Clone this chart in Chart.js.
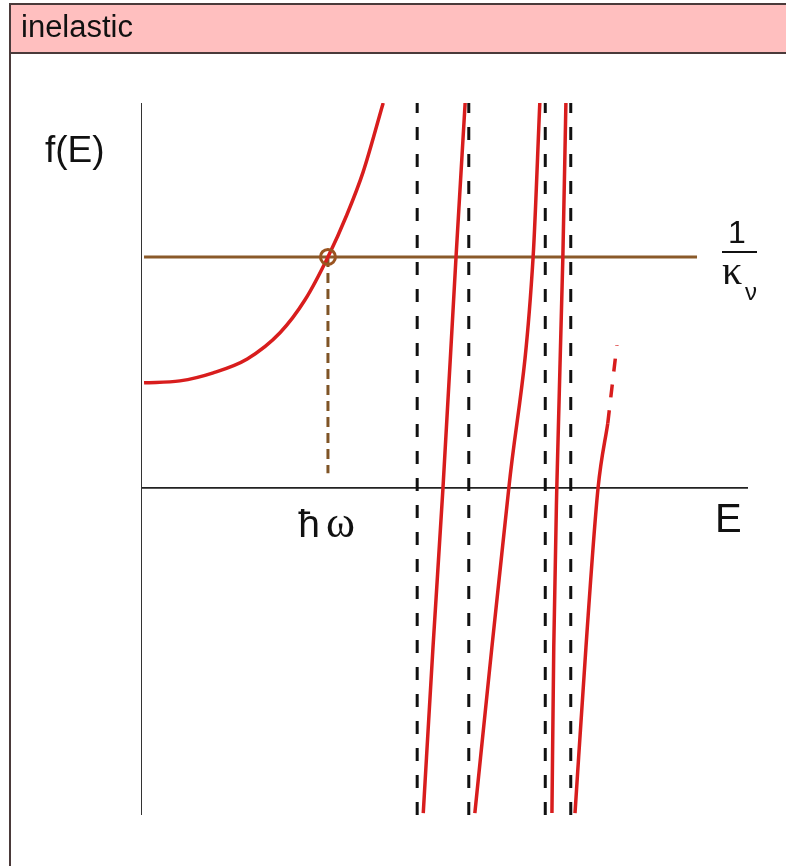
<!DOCTYPE html>
<html>
<head>
<meta charset="utf-8">
<script src="https://cdn.jsdelivr.net/npm/chart.js@4.4.1/dist/chart.umd.min.js"></script>
<style>
  html, body { margin: 0; padding: 0; background: #ffffff; }
  canvas { display: block; }
</style>
</head>
<body>
<canvas id="chart" width="786" height="866"></canvas>
<script>
// Lowest branch of f(E), rising through the 1/κν level at ħω
const curveE = [0.05, 0.64, 1.19, 1.75, 2.29, 2.70, 3.08, 3.39, 3.66, 3.99];
const curveF = [2.73, 2.78, 2.99, 3.35, 4.03, 4.88, 6.00, 7.09, 8.21, 10.0];

// Branches between the poles
const branchAE = [4.65, 4.81, 4.975, 5.19, 5.34];
const branchAF = [-8.45, -4.15, 0.0, 6.0, 10.0];
const branchBE = [5.50, 5.78, 6.06, 6.46, 6.57];
const branchBF = [-8.45, -4.15, 0.0, 6.0, 10.0];
const branchCE = [6.77, 6.80, 6.85, 6.95, 7.00];
const branchCF = [-8.45, -4.15, 0.0, 6.0, 10.0];
const branchDE = [7.15, 7.33, 7.53, 7.69];
const branchDF = [-8.45, -4.15, 0.0, 1.68];
// continuation of the last branch, drawn dashed
const tailE = [7.69, 7.84];
const tailF = [1.68, 3.71];

// Pole positions (vertical asymptotes)
const poles = [4.55, 5.40, 6.66, 7.08];

// Level 1/κν and the energy where the first branch meets it
const kappaInv = 6.0;
const hbarOmega = 3.08;
const levelStart = 0.05;
const levelEnd = 9.16;
const dropEnd = 0.38;

// Axis extents
const xMin = 0, xMax = 10;
const yMin = -8.5, yMax = 10;

const RED = '#d81d1d';
const BROWN = '#8a5a2a';

const pts = (xs, ys) => xs.map((x, i) => ({ x: x, y: ys[i] }));

function redBranch(xs, ys, dash) {
  return {
    data: pts(xs, ys), showLine: true, pointRadius: 0,
    borderColor: RED, borderWidth: 3.5, borderDash: dash || [],
    cubicInterpolationMode: 'monotone', order: 5
  };
}

const datasets = [
  // axes
  { data: [{ x: 0, y: yMin }, { x: 0, y: yMax }], showLine: true, pointRadius: 0,
    borderColor: '#333333', borderWidth: 2, order: 10 },
  { data: [{ x: 0, y: 0 }, { x: xMax, y: 0 }], showLine: true, pointRadius: 0,
    borderColor: '#222222', borderWidth: 1.6, order: 10 },
  // level line 1/κν
  { data: [{ x: levelStart, y: kappaInv }, { x: levelEnd, y: kappaInv }], showLine: true, pointRadius: 0,
    borderColor: BROWN, borderWidth: 3, order: 8 },
  // drop line to ħω
  { data: [{ x: hbarOmega, y: kappaInv }, { x: hbarOmega, y: dropEnd }], showLine: true, pointRadius: 0,
    borderColor: '#7f5426', borderWidth: 3, borderDash: [10, 6], order: 7 },
  redBranch(curveE, curveF),
  redBranch(branchAE, branchAF),
  redBranch(branchBE, branchBF),
  redBranch(branchCE, branchCF),
  redBranch(branchDE, branchDF),
  redBranch(tailE, tailF, [13, 13]),
  // intersection marker
  { data: [{ x: hbarOmega, y: kappaInv }], showLine: false, pointRadius: 7.5,
    pointBorderWidth: 3, pointBorderColor: '#9a5420', pointBackgroundColor: 'rgba(0,0,0,0)', order: 1 }
];

poles.forEach(p => {
  datasets.push({
    data: [{ x: p, y: yMin }, { x: p, y: yMax }], showLine: true, pointRadius: 0,
    borderColor: '#111111', borderWidth: 3, borderDash: [13, 14], order: 9
  });
});

// Panel frame with the pink caption bar
const framePlugin = {
  id: 'frame',
  beforeDraw(chart) {
    const ctx = chart.ctx;
    ctx.save();
    ctx.fillStyle = '#ffffff';
    ctx.fillRect(0, 0, chart.width, chart.height);
    ctx.fillStyle = '#ffbfbf';
    ctx.fillRect(11, 4, chart.width - 11, 49);
    ctx.strokeStyle = '#4a3a3a';
    ctx.lineWidth = 2;
    ctx.beginPath();
    ctx.moveTo(10, 4); ctx.lineTo(chart.width, 4);
    ctx.moveTo(10, 53); ctx.lineTo(chart.width, 53);
    ctx.moveTo(10, 3); ctx.lineTo(10, chart.height);
    ctx.stroke();
    ctx.fillStyle = '#111111';
    ctx.font = '31px "Liberation Sans", Arial, sans-serif';
    ctx.textBaseline = 'alphabetic';
    ctx.fillText('inelastic', 21, 37);
    ctx.restore();
  }
};

// Axis names and annotations
const labelPlugin = {
  id: 'labels',
  afterDraw(chart) {
    const ctx = chart.ctx;
    const xs = chart.scales.x, ys = chart.scales.y;
    ctx.save();
    ctx.fillStyle = '#111111';
    ctx.textBaseline = 'alphabetic';

    ctx.font = '37px "Liberation Sans", Arial, sans-serif';
    ctx.textAlign = 'left';
    ctx.fillText('f(E)', 45, 162);

    ctx.font = '40px "Liberation Sans", Arial, sans-serif';
    ctx.fillText('E', 715, 532);

    // ħω under the intersection
    const hx = xs.getPixelForValue(hbarOmega);
    ctx.font = '39px "Liberation Sans", Arial, sans-serif';
    ctx.textAlign = 'right';
    ctx.fillText('\u0127', hx - 8, 537);
    ctx.font = '44px "Liberation Serif", serif';
    ctx.textAlign = 'left';
    ctx.fillText('\u03C9', hx - 2, 537);

    // 1/κν at the end of the level line
    const ly = ys.getPixelForValue(kappaInv);
    ctx.font = '32px "Liberation Sans", Arial, sans-serif';
    ctx.textAlign = 'center';
    ctx.fillText('1', 737, ly - 14);
    ctx.strokeStyle = '#111111';
    ctx.lineWidth = 2;
    ctx.beginPath();
    ctx.moveTo(722, ly - 5);
    ctx.lineTo(757, ly - 5);
    ctx.stroke();
    ctx.textAlign = 'left';
    ctx.font = '40px "Liberation Serif", serif';
    ctx.fillText('\u03BA', 722, ly + 27);
    ctx.font = '24px "Liberation Sans", Arial, sans-serif';
    ctx.fillText('\u03BD', 745, ly + 43);
    ctx.restore();
  }
};

new Chart(document.getElementById('chart'), {
  type: 'scatter',
  data: { datasets: datasets },
  options: {
    responsive: false,
    animation: false,
    devicePixelRatio: 1,
    layout: { padding: { left: 141, right: 38, top: 103, bottom: 51 } },
    scales: {
      x: { type: 'linear', min: xMin, max: xMax, display: false },
      y: { type: 'linear', min: yMin, max: yMax, display: false }
    },
    plugins: { legend: { display: false }, tooltip: { enabled: false } }
  },
  plugins: [framePlugin, labelPlugin]
});
</script>
</body>
</html>
